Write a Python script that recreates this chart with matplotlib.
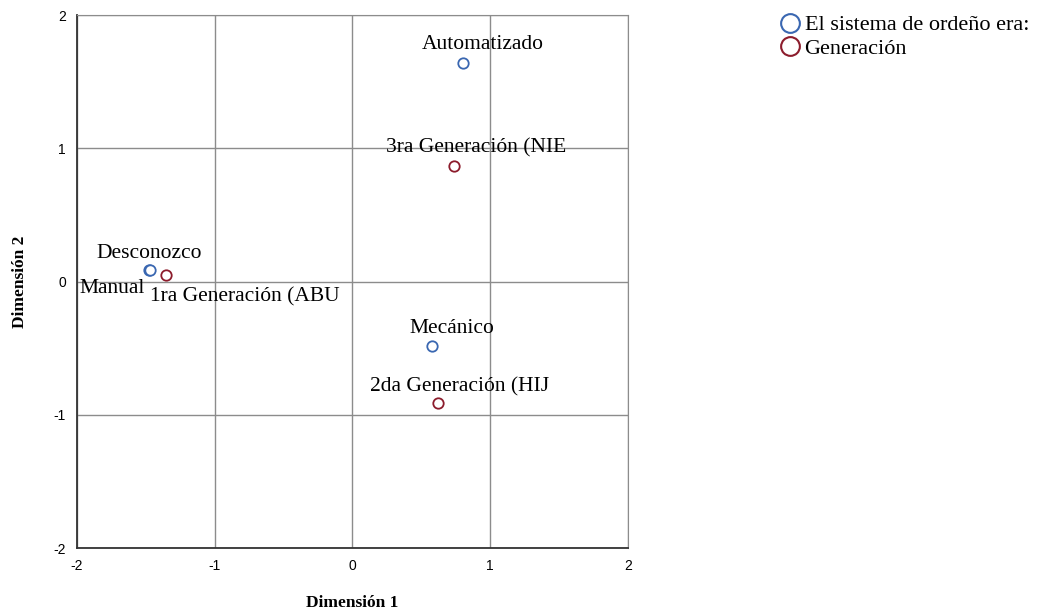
import matplotlib.pyplot as plt
from matplotlib.lines import Line2D

plt.rcParams['axes.unicode_minus'] = False

# category points (Dimension 1, Dimension 2)
sistema_labels = ["Automatizado", "Desconozco", "Manual", "Mecánico"]
sistema_x = [0.802, -1.477, -1.470, 0.577]
sistema_y = [1.640, 0.088, 0.085, -0.484]

gen_labels = ["3ra Generación (NIE", "1ra Generación (ABU", "2da Generación (HIJ"]
gen_x = [0.737, -1.354, 0.621]
gen_y = [0.867, 0.049, -0.912]

blue = "#3a67b1"
red = "#8c1c2c"

fig = plt.figure(figsize=(10.39, 6.15), dpi=100)
ax = fig.add_axes([0.0741, 0.1089, 0.5303, 0.8667])

ax.set_xlim(-2, 2)
ax.set_ylim(-2, 2)
ax.set_xticks([-2, -1, 0, 1, 2])
ax.set_yticks([-2, -1, 0, 1, 2])
ax.grid(True, color="#8c8c8c", lw=1.0)
ax.set_axisbelow(True)
ax.tick_params(length=0, labelsize=10, pad=8)
for lab in ax.get_xticklabels() + ax.get_yticklabels():
    lab.set_family("Liberation Sans")

ax.spines["left"].set_color("#333333")
ax.spines["bottom"].set_color("#333333")
ax.spines["left"].set_linewidth(1.3)
ax.spines["bottom"].set_linewidth(1.3)
ax.spines["top"].set_color("#8c8c8c")
ax.spines["right"].set_color("#8c8c8c")

ax.plot(sistema_x, sistema_y, "o", mfc="white", mec=blue, mew=1.3, ms=7.5, zorder=3)
ax.plot(gen_x, gen_y, "o", mfc="white", mec=red, mew=1.3, ms=7.5, zorder=3)

tf = dict(family="Liberation Serif", fontsize=15.5, zorder=4)
# label offsets (points), text baseline relative to the marker
sis_off = [(14.4, 10.1), (0, 8.6), (-27.4, -16.6), (14.4, 9.4)]
gen_off = [(15.8, 9.4), (56.9, -19.4), (15.8, 8.6)]
for lbl, x, y, off in zip(sistema_labels, sistema_x, sistema_y, sis_off):
    ax.annotate(lbl, (x, y), xytext=off, textcoords="offset points",
                ha="center", va="baseline", **tf)
for lbl, x, y, off in zip(gen_labels, gen_x, gen_y, gen_off):
    ax.annotate(lbl, (x, y), xytext=off, textcoords="offset points",
                ha="center", va="baseline", **tf)

ax.set_xlabel("Dimensión 1", family="Liberation Serif", fontsize=12.5,
              fontweight="bold", labelpad=16)
ax.set_ylabel("Dimensión 2", family="Liberation Serif", fontsize=12.5,
              fontweight="bold", labelpad=18)

handles = [
    Line2D([], [], ls="none", marker="o", mfc="white", mec=blue, mew=1.5, ms=13.5),
    Line2D([], [], ls="none", marker="o", mfc="white", mec=red, mew=1.5, ms=13.5),
]
fig.legend(handles, ["El sistema de ordeño era:", "Generación"],
           loc="upper left", bbox_to_anchor=(0.7498, 0.976), frameon=False,
           prop={"family": "Liberation Serif", "size": 16},
           handlelength=1.0, handletextpad=0.15, labelspacing=0.15,
           borderpad=0, borderaxespad=0)

fig.savefig("out.png", dpi=100)
